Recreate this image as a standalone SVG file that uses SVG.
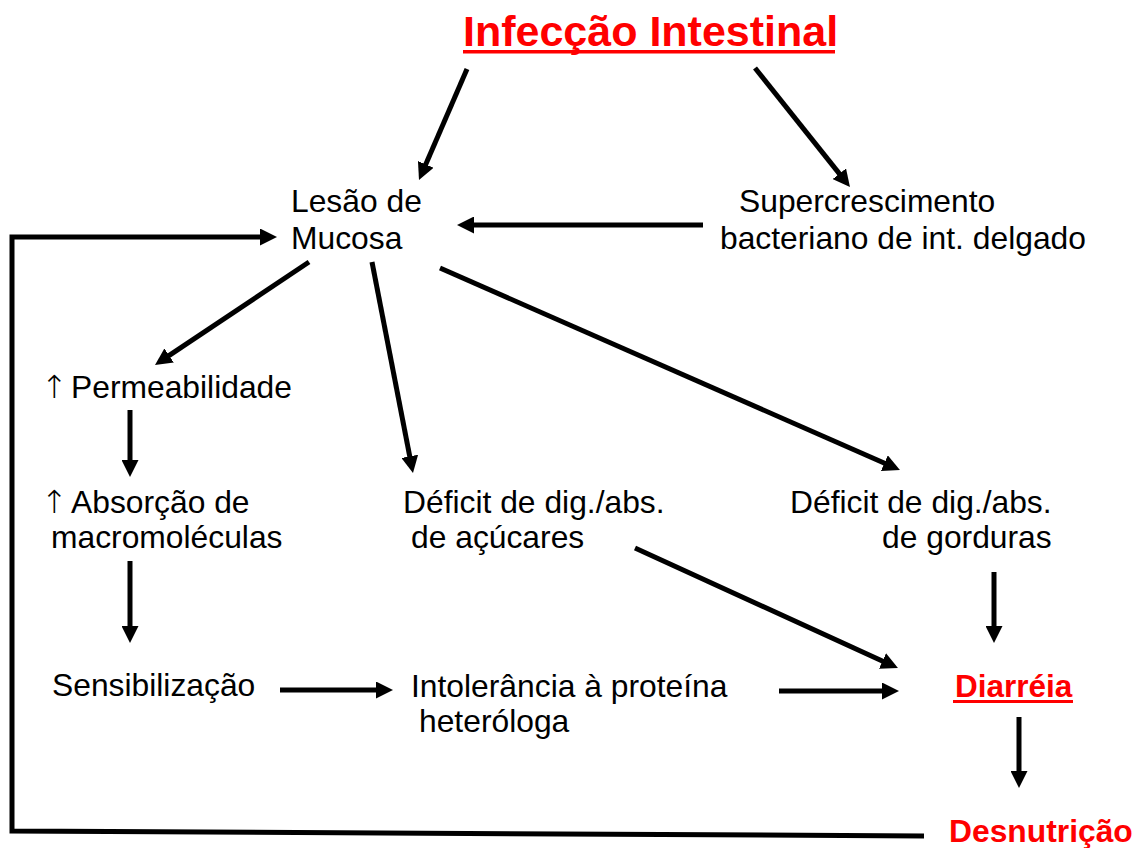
<svg xmlns="http://www.w3.org/2000/svg" width="1138" height="848" viewBox="0 0 1138 848">
<style>
.t{font-family:"Liberation Sans",Arial,sans-serif;font-size:31.8px;fill:#000}
.ar{font-family:"DejaVu Sans",sans-serif;font-weight:200}
.r{font-family:"Liberation Sans",Arial,sans-serif;font-weight:bold;fill:#FF0000}
.c{stroke:#000;stroke-width:5;fill:none}
.u{fill:#FF0000}
</style>
<defs>
<marker id="ah" viewBox="0 0 10 10" refX="2" refY="5" markerWidth="3.4" markerHeight="3.4" orient="auto">
<path d="M0,0 L10,5 L0,10 z" fill="#000"/>
</marker>
</defs>
<rect width="1138" height="848" fill="#fff"/>
<g id="connectors">
<line class="c" x1="467" y1="69" x2="424.4" y2="167.5" marker-end="url(#ah)"/>
<line class="c" x1="755" y1="68" x2="841.5" y2="176.4" marker-end="url(#ah)"/>
<line class="c" x1="703" y1="225" x2="470.6" y2="225" marker-end="url(#ah)"/>
<path class="c" d="M924,836 L12,831 L12,237 L263.4,237" marker-end="url(#ah)"/>
<line class="c" x1="309" y1="262" x2="166.3" y2="357.4" marker-end="url(#ah)"/>
<line class="c" x1="372" y1="262" x2="410.4" y2="459.7" marker-end="url(#ah)"/>
<line class="c" x1="440" y1="268" x2="887.5" y2="464.5" marker-end="url(#ah)"/>
<line class="c" x1="130" y1="410" x2="130" y2="463.4" marker-end="url(#ah)"/>
<line class="c" x1="130" y1="561" x2="130" y2="629.4" marker-end="url(#ah)"/>
<line class="c" x1="280" y1="690" x2="379.4" y2="690" marker-end="url(#ah)"/>
<line class="c" x1="779" y1="691" x2="885.4" y2="691" marker-end="url(#ah)"/>
<line class="c" x1="635" y1="548" x2="885.6" y2="662.4" marker-end="url(#ah)"/>
<line class="c" x1="994" y1="572" x2="994" y2="629.4" marker-end="url(#ah)"/>
<line class="c" x1="1019" y1="717" x2="1019" y2="774.4" marker-end="url(#ah)"/>
</g>
<g id="infeccao">
<text class="r" x="463" y="46" font-size="43">Infecção Intestinal</text>
<rect class="u" x="463" y="50" width="372" height="3.5"/>
</g>
<g id="lesao">
<text class="t" x="291" y="212">Lesão de</text>
<text class="t" x="291" y="249">Mucosa</text>
</g>
<g id="supercrescimento">
<text class="t" x="739" y="212">Supercrescimento</text>
<text class="t" x="720" y="249">bacteriano de int. delgado</text>
</g>
<g id="permeabilidade">
<text class="t" y="398"><tspan class="ar" x="41">↑</tspan><tspan x="71">Permeabilidade</tspan></text>
</g>
<g id="absorcao">
<text class="t" y="513"><tspan class="ar" x="41">↑</tspan><tspan x="71">Absorção de</tspan></text>
<text class="t" x="51" y="548">macromoléculas</text>
</g>
<g id="acucares">
<text class="t" x="403" y="513">Déficit de dig./abs.</text>
<text class="t" x="411" y="548">de açúcares</text>
</g>
<g id="gorduras">
<text class="t" x="790" y="513">Déficit de dig./abs.</text>
<text class="t" x="882" y="548">de gorduras</text>
</g>
<g id="sensibilizacao">
<text class="t" x="52" y="696">Sensibilização</text>
</g>
<g id="intolerancia">
<text class="t" x="411" y="697">Intolerância à proteína</text>
<text class="t" x="419" y="732">heteróloga</text>
</g>
<g id="diarreia">
<text class="r" x="955" y="697" font-size="31.5">Diarréia</text>
<rect class="u" x="953" y="700" width="120" height="3"/>
</g>
<g id="desnutricao">
<text class="r" x="949" y="842" font-size="31.8">Desnutrição</text>
</g>
</svg>
